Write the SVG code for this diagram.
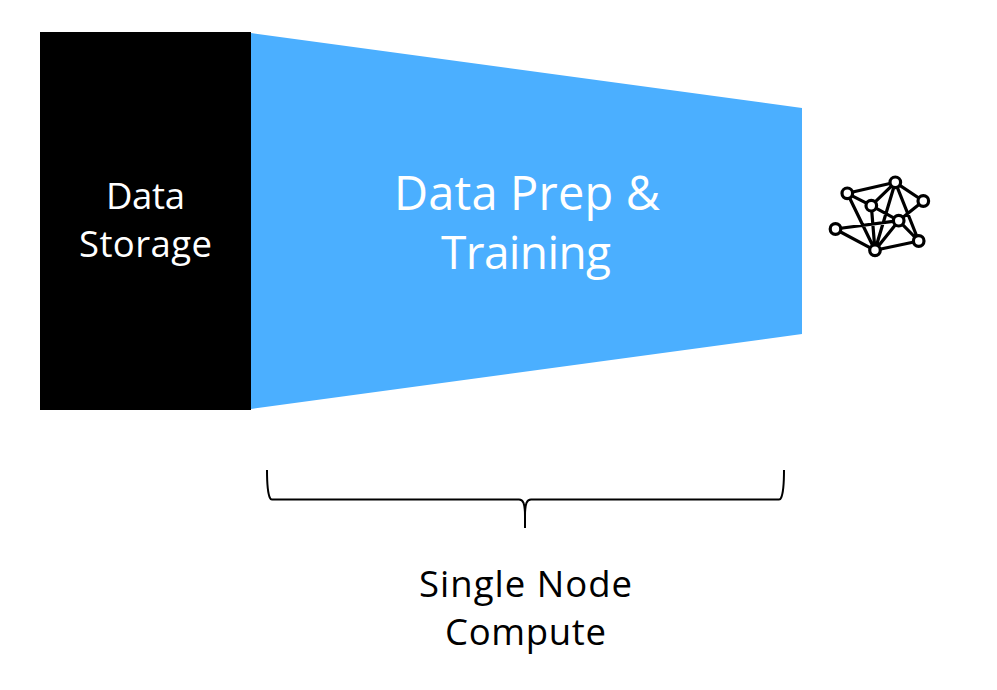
<svg xmlns="http://www.w3.org/2000/svg" width="997" height="690" viewBox="0 0 997 690">
<style>
text{font-family:"Open Sans","Noto Sans","Liberation Sans",sans-serif;text-anchor:middle}
.w{fill:#fff}
.k{fill:#000}
.e{fill:none;stroke:#000;stroke-width:3.2;stroke-linecap:round}
.n{fill:#fff;stroke:#000;stroke-width:3.2}
.b{fill:none;stroke:#000;stroke-width:2}
</style>
<rect width="997" height="690" fill="#fff"/>
<g id="storage">
<rect x="40" y="32" width="211" height="378" fill="#000"/>
<text class="w" x="145.500" y="208.500" font-size="36.500" textLength="79">Data</text>
<text class="w" x="145.500" y="256.500" font-size="36.500" textLength="133">Storage</text>
</g>
<g id="training">
<polygon points="251,33 802,108 802,334 251,409" fill="#4bafff"/>
<text class="w" x="527" y="210" font-size="47" textLength="266">Data Prep &amp;</text>
<text class="w" x="526" y="269" font-size="46" textLength="170">Training</text>
</g>
<g id="model">
<g class="e">
<path d="M847.3 193.3L895.3 182.3M847.3 193.3L871.3 205.7M847.3 193.3L875 250.3M895.3 182.3L923.3 201M895.3 182.3L871.3 205.7M895.3 182.3L875 250.3M895.3 182.3L918.7 241M923.3 201L898.7 220.7M871.3 205.7L898.7 220.7M871.3 205.7L875 250.3M898.7 220.7L835 229M898.7 220.7L875 250.3M898.7 220.7L918.7 241M835 229L875 250.3M918.7 241L875 250.3"/>
</g>
<g class="n">
<circle cx="847.3" cy="193.3" r="5.300"/><circle cx="895.3" cy="182.3" r="5.300"/><circle cx="923.3" cy="201" r="5.300"/><circle cx="871.3" cy="205.7" r="5.300"/><circle cx="898.7" cy="220.7" r="5.300"/><circle cx="835.500" cy="229" r="5.300"/><circle cx="918.7" cy="241" r="5.300"/><circle cx="875" cy="250.3" r="5.300"/>
</g>
</g>
<g id="connectors">
<path class="b" d="M267 470C267 484 268 494 270 498Q270.500 499.500 272 499.500H519C523 499.500 525 503 525 516V528M525 516C525 503 527 499.500 531 499.500H779Q780.500 499.500 781 498C783 494 784 484 784 470"/>
</g>
<g id="label">
<text class="k" x="525.500" y="597" font-size="36.500" textLength="213">Single Node</text>
<text class="k" x="525.500" y="645" font-size="36.500" textLength="161">Compute</text>
</g>
</svg>
